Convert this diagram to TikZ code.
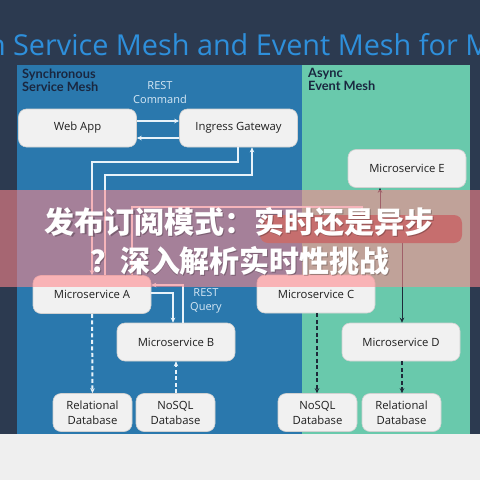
\documentclass[tikz,border=0pt]{standalone}
\usepackage{fontspec}
\setmainfont{Open Sans}
\newfontfamily\headfont{Lato}
\newfontfamily\cjk{Noto Sans CJK SC}
\usetikzlibrary{arrows.meta}
\definecolor{navy}{HTML}{2C3A50}
\definecolor{syncblue}{HTML}{2A78AD}
\definecolor{asyncgreen}{HTML}{69C9AC}
\definecolor{boxfill}{HTML}{F1F1F1}
\definecolor{titleblue}{HTML}{2E8FDB}
\definecolor{pagegray}{HTML}{EFEFEF}
\definecolor{darkline}{HTML}{1E2B3A}
\definecolor{lightline}{HTML}{E8F3FA}
\definecolor{labelblue}{HTML}{D6E8F5}
\definecolor{headdark}{HTML}{1A2740}
\definecolor{bannerred}{RGB}{255,135,140}
\definecolor{brokerbase}{RGB}{120,76,70}
\tikzset{
  svc/.style={draw=black!18, line width=0.6pt, fill=boxfill, rounded corners=8pt,
    minimum width=118pt, minimum height=38pt, inner sep=0pt,
    font=\fontsize{11.3}{15}\selectfont, text=black!88, align=center},
  db/.style={svc, minimum width=79pt},
  wire/.style={draw=lightline, line width=1.3pt, -{Stealth[length=5pt,width=4.5pt]}},
  dashwire/.style={wire, line width=2pt, dash pattern=on 4pt off 2.5pt},
  darkwire/.style={draw=darkline, line width=0.9pt, -{Stealth[length=5pt,width=4.5pt]}},
  darkdash/.style={darkwire, line width=2pt, dash pattern=on 4pt off 2.5pt},
  restlabel/.style={text=labelblue, font=\fontsize{11}{14}\selectfont, align=center, inner sep=0pt},
  meshhead/.style={text=headdark, font=\headfont\bfseries\fontsize{12.8}{13}\selectfont, align=left, anchor=north west, inner sep=0pt},
  bannertext/.style={font=\cjk\bfseries\fontsize{30}{38}\selectfont, inner sep=0pt}
}
\begin{document}
\begin{tikzpicture}[x=1pt,y=-1pt]
\useasboundingbox (0,0) rectangle (480,480);
\clip (0,0) rectangle (480,480);
% backgrounds
\fill[navy] (0,0) rectangle (480,434);
\fill[pagegray] (0,434) rectangle (480,480);
\fill[syncblue] (17,65) rectangle (302,434);
\fill[asyncgreen] (302,65) rectangle (470,434);
% title
\node[anchor=base west, inner sep=0pt, text=titleblue, font=\fontsize{28.8}{32}\selectfont] (title) at (13,55) {\llap{n }Service Mesh and Event Mesh for M};
% headings
\node[meshhead] (synchead) at (22,68.5) {Synchronous\\Service Mesh};
\node[meshhead] (asynchead) at (308,68.5) {Async\\Event Mesh};
\node[restlabel] (restcmd) at (160,93) {REST\\Command};
\node[restlabel] (restq) at (206,301) {REST\\Query};
% nodes
\node[svc] (web) at (77.5,128) {Web App};
\node[svc] (ingress) at (238.5,128) {Ingress Gateway};
\node[svc] (mse) at (407,168.5) {Microservice E};
\node[fill=brokerbase, rounded corners=8pt, minimum width=202pt, minimum height=28pt, inner sep=0pt] (broker) at (361,229) {};
\node[svc] (msa) at (92,294.5) {Microservice A};
\node[svc] (msb) at (176,342) {Microservice B};
\node[svc] (msc) at (316,294) {Microservice C};
\node[svc] (msd) at (401,342) {Microservice D};
\node[db] (rdbl) at (92.5,412.5) {Relational\\Database};
\node[db] (ndbl) at (175.5,412.5) {NoSQL\\Database};
\node[db] (ndbr) at (317.5,412.5) {NoSQL\\Database};
\node[db] (rdbr) at (401.5,412.5) {Relational\\Database};
% sync connectors
\draw[wire] (web.east |- 0,121) -- (ingress.west |- 0,121);
\draw[wire] (ingress.west |- 0,138) -- (web.east |- 0,138);
\draw[wire] (ingress.south -| 238,0) |- (92,162) -- (msa.north -| 92,0);
\draw[wire] (msa.north -| 105,0) |- (252,175) -- (ingress.south -| 252,0);
\draw[wire] (msa.north -| 132,0) |- (362,207) -- (broker.north -| 362,0);
\draw[wire] (msa.east |- 0,293) -| (msb.north -| 173,0);
\draw[wire] (msb.north -| 183,0) |- (msa.east |- 0,285);
\draw[dashwire] (msa.south) -- (rdbl.north);
\draw[dashwire] (ndbl.north -| 176,0) -- (msb.south -| 176,0);
% async connectors
\draw[darkwire] (broker.north -| 380,0) -- (mse.south -| 380,0);
\draw[darkwire] (broker.south -| 402,0) -- (msd.north -| 402,0);
\draw[darkdash] (msc.south -| 317,0) -- (ndbr.north -| 317,0);
\draw[darkdash] (msd.south -| 402,0) -- (rdbr.north -| 402,0);
% banner overlay
\fill[bannerred, opacity=0.58] (0,190) rectangle (480,287);
\node[bannertext, text=black, opacity=0.25] at (241,223) {发布订阅模式：实时还是异步};
\node[bannertext, text=black, opacity=0.25] at (241,262) {？深入解析实时性挑战};
\node[bannertext, text=white] (banner1) at (240,222) {发布订阅模式：实时还是异步};
\node[bannertext, text=white] (banner2) at (240,261) {？深入解析实时性挑战};
\end{tikzpicture}
\end{document}
